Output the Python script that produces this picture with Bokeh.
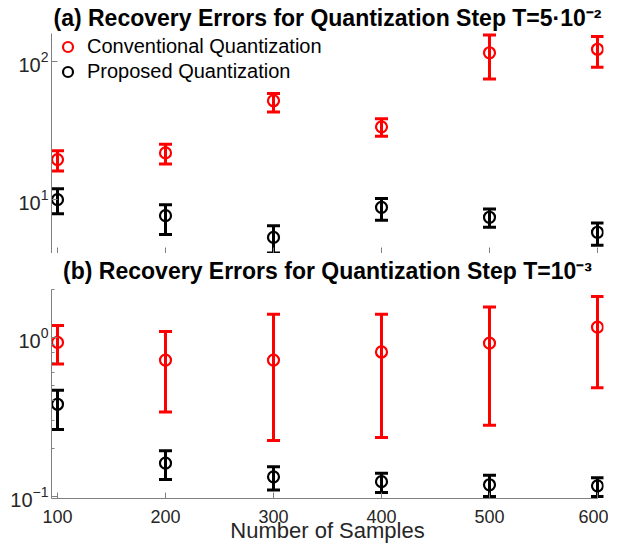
from bokeh.plotting import figure
from bokeh.models import (Range1d, FixedTicker, Whisker, ColumnDataSource, Title,
                          Legend, LegendItem, TeeHead)
from bokeh.layouts import column
from bokeh.embed import file_html
from bokeh.resources import INLINE

FONT = "Liberation Sans"

samples = [100, 200, 300, 400, 500, 600]

# Panel (a): T = 5e-2
a_conv_mean = [19.5, 21.8, 52.1, 33.7, 116.0, 123.0]
a_conv_low = [16.1, 18.1, 43.1, 28.8, 75.0, 91.0]
a_conv_high = [22.6, 25.2, 58.9, 38.6, 156.0, 152.0]
a_prop_mean = [10.0, 7.65, 5.32, 8.8, 7.45, 5.8]
a_prop_low = [7.9, 5.6, 4.1, 7.08, 6.3, 4.68]
a_prop_high = [12.0, 9.2, 6.47, 10.2, 8.57, 6.78]

# Panel (b): T = 1e-3
b_conv_mean = [0.93, 0.72, 0.72, 0.81, 0.92, 1.16]
b_conv_low = [0.68, 0.34, 0.225, 0.235, 0.28, 0.483]
b_conv_high = [1.19, 1.09, 1.40, 1.40, 1.55, 1.81]
b_prop_mean = [0.38, 0.162, 0.133, 0.124, 0.1185, 0.1167]
b_prop_low = [0.264, 0.128, 0.110, 0.106, 0.100, 0.100]
b_prop_high = [0.465, 0.194, 0.154, 0.140, 0.136, 0.131]

x_ticks = [100, 200, 300, 400, 500, 600]
a_yticks = [10, 100]
b_yticks = [0.1, 1]
b_minor = [0.2, 0.3, 0.4, 0.5, 0.6, 0.7, 0.8, 0.9, 2]

title_a = "(a) Recovery Errors for Quantization Step T=5\u00b710\u207b\u00b2"
title_b = "(b) Recovery Errors for Quantization Step T=10\u207b\u00b3"
x_label = "Number of Samples"
series_names = ["Conventional Quantization", "Proposed Quantization"]
colors = ["#ff0000", "#000000"]

AX = "#808080"
TXT = "#262626"
X_RANGE = (94.44, 605.56)


def panel(y_range, y_bounds, yticks, yminor, series, frame_h, top_border,
          title, title_standoff, bottom, legend):
    p = figure(frame_width=552, frame_height=frame_h,
               x_range=Range1d(*X_RANGE), y_range=Range1d(*y_range),
               y_axis_type="log", output_backend="svg", toolbar_location=None,
               min_border_left=51, min_border_right=5, min_border_top=top_border,
               min_border_bottom=0)
    p.outline_line_color = None
    p.xgrid.visible = False
    p.ygrid.visible = False
    p.title = Title(text=title, align="center", text_font=FONT, text_font_size="23px",
                    text_font_style="bold", text_color="#000000",
                    standoff=title_standoff)

    xa = p.xaxis[0]
    xa.bounds = (X_RANGE[0], x_ticks[-1])
    xa.ticker = FixedTicker(ticks=x_ticks, minor_ticks=[])
    xa.axis_line_color = AX
    xa.major_tick_line_color = AX
    xa.major_tick_in = 6
    xa.major_tick_out = 0
    xa.minor_tick_in = 0
    xa.minor_tick_out = 0
    if bottom:
        xa.major_label_text_font = FONT
        xa.major_label_text_font_size = "18px"
        xa.major_label_text_color = TXT
        xa.major_label_standoff = 11
        xa.axis_label = x_label
        xa.axis_label_text_font = FONT
        xa.axis_label_text_font_size = "22px"
        xa.axis_label_text_font_style = "normal"
        xa.axis_label_text_color = TXT
        xa.axis_label_standoff = -8
    else:
        xa.major_label_overrides = {t: "" for t in x_ticks}
        xa.major_label_text_font_size = "1px"
        xa.major_label_standoff = 0

    ya = p.yaxis[0]
    ya.bounds = y_bounds
    ya.ticker = FixedTicker(ticks=yticks, minor_ticks=yminor)
    ya.axis_line_color = AX
    ya.major_tick_line_color = AX
    ya.minor_tick_line_color = AX
    ya.major_tick_in = 6
    ya.major_tick_out = 0
    ya.minor_tick_in = 3
    ya.minor_tick_out = 0
    ya.major_label_text_font = FONT
    ya.major_label_text_font_size = "20px"
    ya.major_label_text_color = TXT
    ya.major_label_standoff = 3

    renderers = []
    for (mean, low, high), c in zip(series, colors):
        src = ColumnDataSource(dict(x=samples, y=mean, lo=low, hi=high))
        w = Whisker(source=src, base="x", upper="hi", lower="lo", dimension="height",
                    line_color=c, line_width=3,
                    upper_head=TeeHead(size=13, line_color=c, line_width=3),
                    lower_head=TeeHead(size=13, line_color=c, line_width=3))
        p.add_layout(w)
        r = p.scatter("x", "y", source=src, marker="circle", size=11,
                      fill_color=None, line_color=c, line_width=2.2)
        renderers.append(r)

    if legend:
        lg = Legend(items=[LegendItem(label=n, renderers=[r])
                           for n, r in zip(series_names, renderers)],
                    location="top_left", border_line_color=None,
                    background_fill_alpha=0, label_text_font=FONT,
                    label_text_font_size="20px", label_text_color="#000000",
                    glyph_width=25, glyph_height=25, spacing=0, padding=0,
                    margin=4, label_standoff=7)
        p.add_layout(lg)
    return p


p1 = panel((4.07, 168.2), (4.07, 160.0), a_yticks, [],
           [(a_conv_mean, a_conv_low, a_conv_high), (a_prop_mean, a_prop_low, a_prop_high)],
           223, 30, title_a, 0, False, True)
p2 = panel((0.09715, 2.089), (0.09715, 2.0), b_yticks, b_minor,
           [(b_conv_mean, b_conv_low, b_conv_high), (b_prop_mean, b_prop_low, b_prop_high)],
           212, 29, title_b, 5, True, False)

layout = column(p1, p2, spacing=0)
open("out.html", "w").write(file_html(layout, INLINE))
